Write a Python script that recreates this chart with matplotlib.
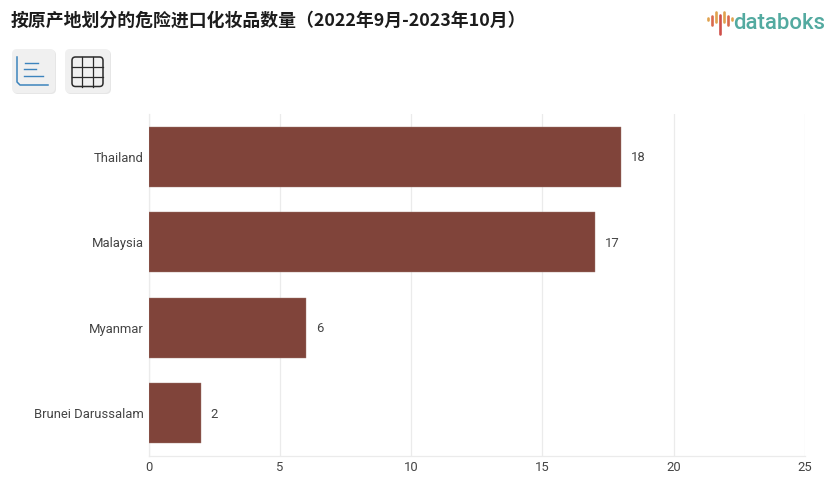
import matplotlib
matplotlib.use("Agg")
import matplotlib.pyplot as plt
from matplotlib.patches import FancyBboxPatch

title = "按原产地划分的危险进口化妆品数量（2022年9月-2023年10月）"
countries = ["Thailand", "Malaysia", "Myanmar", "Brunei Darussalam"]
counts = [18, 17, 6, 2]
xticks = [0, 5, 10, 15, 20, 25]
W, H = 830, 483
fig = plt.figure(figsize=(W / 100, H / 100), dpi=100, facecolor="white")
TXT = "#444444"
FONT = "Roboto"
ax = fig.add_axes([148.5 / W, 1 - 456 / H, (805 - 148.5) / W, (456 - 114) / H])
ax.barh(range(len(countries)), counts, height=0.70, color="#80443a", edgecolor="#a07a72", linewidth=0.3, zorder=3)
ax.set_ylim(3.5, -0.5)
ax.set_xlim(0, 25)
ax.set_xticks(xticks)
ax.set_yticks(range(len(countries)), countries)
ax.tick_params(length=0, labelsize=9.4, labelcolor=TXT, pad=3.5, labelfontfamily=FONT)
ax.tick_params(axis="x", pad=3.5)
ax.grid(axis="x", color="#ebebeb", linewidth=0.9, zorder=0)
ax.set_axisbelow(True)
for s in ["top", "right"]:
    ax.spines[s].set_visible(False)
for s in ["left", "bottom"]:
    ax.spines[s].set_color("#ebebeb")
    ax.spines[s].set_linewidth(0.9)
for i, v in enumerate(counts):
    ax.annotate(str(v), (v, i), xytext=(7, -0.7), textcoords="offset points", va="center", ha="left",
                fontsize=9.4, color=TXT, family=FONT)

ov = fig.add_axes([0, 0, 1, 1], facecolor="none")
ov.set_xlim(0, W)
ov.set_ylim(H, 0)
ov.axis("off")
ov.text(11, 21, title, fontsize=12.85, fontweight="bold", color="#1c1c1c", va="center", ha="left",
        family=["Noto Sans CJK SC", "DejaVu Sans"])
for x0, w in ((12, 43), (65, 45)):
    ov.add_patch(FancyBboxPatch((x0 + 1, 50), w, 44, boxstyle="round,pad=0,rounding_size=5",
                                fc="#e6e6e6", ec="none"))
    ov.add_patch(FancyBboxPatch((x0, 49), w, 44, boxstyle="round,pad=0,rounding_size=5",
                                fc="#f0f0f0", ec="none"))
blue = "#3d84bd"
ov.plot([17, 17, 20, 48], [57, 82, 85, 85], color=blue, lw=1.1)
for y, x0, x1 in ((63, 25, 38), (69, 24, 36), (76, 24, 43)):
    ov.plot([x0, x1], [y, y], color=blue, lw=1.0)
ov.add_patch(FancyBboxPatch((72, 57), 31, 29.5, boxstyle="round,pad=0,rounding_size=3.5", fc="none", ec="#2a2a2a", lw=1.1))
for x in (82, 93):
    ov.plot([x, x], [57, 86.5], color="#2a2a2a", lw=0.9)
for y in (67, 77):
    ov.plot([72, 103], [y, y], color="#2a2a2a", lw=0.9)

# databoks logo
for x, y0, y1, c in [(707.5, 18, 20, "#e0a24e"), (711.5, 16, 25, "#d9694c"), (716, 12, 22, "#e0a24e"),
                     (720, 15, 33.5, "#cf4f4a"), (724, 12, 22, "#e0a24e"), (728, 16, 25, "#d9694c"), (731.5, 18, 20, "#e0a24e")]:
    ov.plot([x, x], [y0, y1], color=c, lw=1.9, solid_capstyle="round")
ov.text(733, 23.5, "databoks", fontsize=15.9, fontweight="medium", color="#53aaa0", va="center", ha="left", family="Roboto")
fig.savefig("out.png", dpi=100)
